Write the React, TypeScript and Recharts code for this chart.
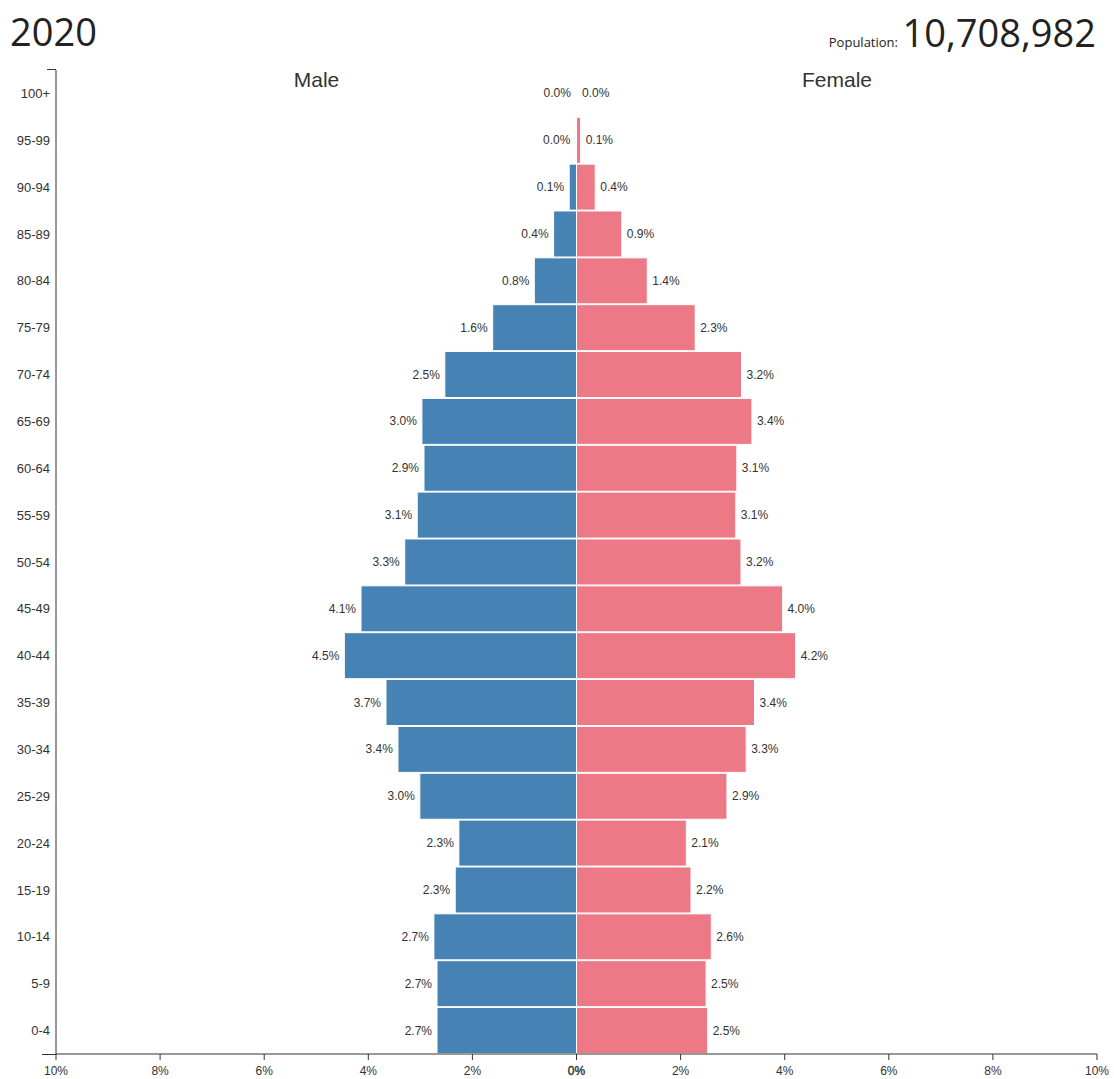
import React from 'react';
import { BarChart, Bar, XAxis, YAxis, LabelList } from 'recharts';

// age groups, top of the pyramid first
const ageGroups = [
  '100+', '95-99', '90-94', '85-89', '80-84', '75-79', '70-74', '65-69', '60-64', '55-59',
  '50-54', '45-49', '40-44', '35-39', '30-34', '25-29', '20-24', '15-19', '10-14', '5-9', '0-4',
];

// share of total population, %
const malePct = [
  0.01, 0.02, 0.14, 0.44, 0.81, 1.61, 2.53, 2.97, 2.93, 3.06,
  3.3, 4.14, 4.46, 3.66, 3.43, 3.01, 2.26, 2.33, 2.74, 2.68, 2.68,
];
const femalePct = [
  0.01, 0.08, 0.36, 0.87, 1.36, 2.28, 3.17, 3.37, 3.08, 3.06,
  3.16, 3.96, 4.21, 3.42, 3.26, 2.89, 2.11, 2.2, 2.59, 2.49, 2.52,
];

const xTicks = [-10, -8, -6, -4, -2, 0, 2, 4, 6, 8, 10];

const year = '2020';
const population = '10,708,982';

const data = ageGroups.map((age, i) => ({
  age,
  male: -malePct[i],
  female: femalePct[i],
}));

const FONT = '"Liberation Sans", Arial, Helvetica, sans-serif';
const TITLE_FONT = '"Open Sans", "Noto Sans", sans-serif';
const TEXT = '#333';
const MALE = '#4682b4';
const FEMALE = '#ed7886';

const pct = (v: number) => `${Math.abs(Number(v)).toFixed(1)}%`;

function MaleLabel(props: any) {
  const { x, y, width, height, value } = props;
  const left = Math.min(Number(x), Number(x) + Number(width));
  return (
    <text x={left - 5} y={Number(y) + Number(height) / 2} textAnchor="end" dominantBaseline="central"
      fontSize={12} fill={TEXT} fontFamily={FONT}>
      {pct(value)}
    </text>
  );
}

function FemaleLabel(props: any) {
  const { x, y, width, height, value } = props;
  const right = Math.max(Number(x), Number(x) + Number(width));
  return (
    <text x={right + 5} y={Number(y) + Number(height) / 2} textAnchor="start" dominantBaseline="central"
      fontSize={12} fill={TEXT} fontFamily={FONT}>
      {pct(value)}
    </text>
  );
}

function XTick(props: any) {
  const { x, y, payload } = props;
  const zero = payload.value === 0;
  return (
    <text x={x} y={y} dy={13} textAnchor="middle" fontSize={12} fill={TEXT} fontFamily={FONT}
      stroke={zero ? TEXT : 'none'} strokeWidth={zero ? 0.4 : 0}>
      {pct(payload.value).replace('.0', '')}
    </text>
  );
}

export default function App() {
  return (
    <div style={{ position: 'absolute', left: 0, top: 0, width: 1114, height: 1079, background: '#fff' }}>
      <BarChart
        width={1114}
        height={1079}
        data={data}
        layout="vertical"
        stackOffset="sign"
        barCategoryGap={0.4}
        margin={{ top: 70, right: 17, bottom: 0, left: 0 }}
      >
        <XAxis
          type="number"
          domain={[-10, 10]}
          ticks={xTicks}
          height={25}
          tick={<XTick />}
          tickSize={6}
          tickMargin={2}
          axisLine={{ stroke: TEXT }}
          tickLine={{ stroke: TEXT }}
        />
        <YAxis
          type="category"
          dataKey="age"
          width={56}
          interval={0}
          tickLine={false}
          tickSize={0}
          tickMargin={6}
          axisLine={{ stroke: TEXT }}
          tick={{ fontSize: 13, fill: TEXT, fontFamily: FONT }}
        />
        <Bar dataKey="male" stackId="pop" fill={MALE} stroke="#fff" strokeWidth={1} isAnimationActive={false}>
          <LabelList dataKey="male" content={<MaleLabel />} />
        </Bar>
        <Bar dataKey="female" stackId="pop" fill={FEMALE} stroke="#fff" strokeWidth={1} isAnimationActive={false}>
          <LabelList dataKey="female" content={<FemaleLabel />} />
        </Bar>
      </BarChart>
      <svg width={1114} height={1079} style={{ position: 'absolute', left: 0, top: 0, pointerEvents: 'none' }}>
        <text x={10} y={46} fontSize={38} fill="#222" fontFamily={TITLE_FONT}>{year}</text>
        <text x={1096} y={47} fontSize={38} fill="#222" fontFamily={TITLE_FONT} textAnchor="end">{population}</text>
        <text x={898} y={47} fontSize={13} fill="#222" fontFamily={TITLE_FONT} textAnchor="end">Population:</text>
        <text x={316.5} y={87} fontSize={21} fill={TEXT} fontFamily={FONT} textAnchor="middle">Male</text>
        <text x={837} y={87} fontSize={21} fill={TEXT} fontFamily={FONT} textAnchor="middle">Female</text>
        <line x1={47} y1={69.5} x2={56} y2={69.5} stroke={TEXT} />
        <line x1={42} y1={1054.5} x2={56} y2={1054.5} stroke={TEXT} />
      </svg>
    </div>
  );
}
